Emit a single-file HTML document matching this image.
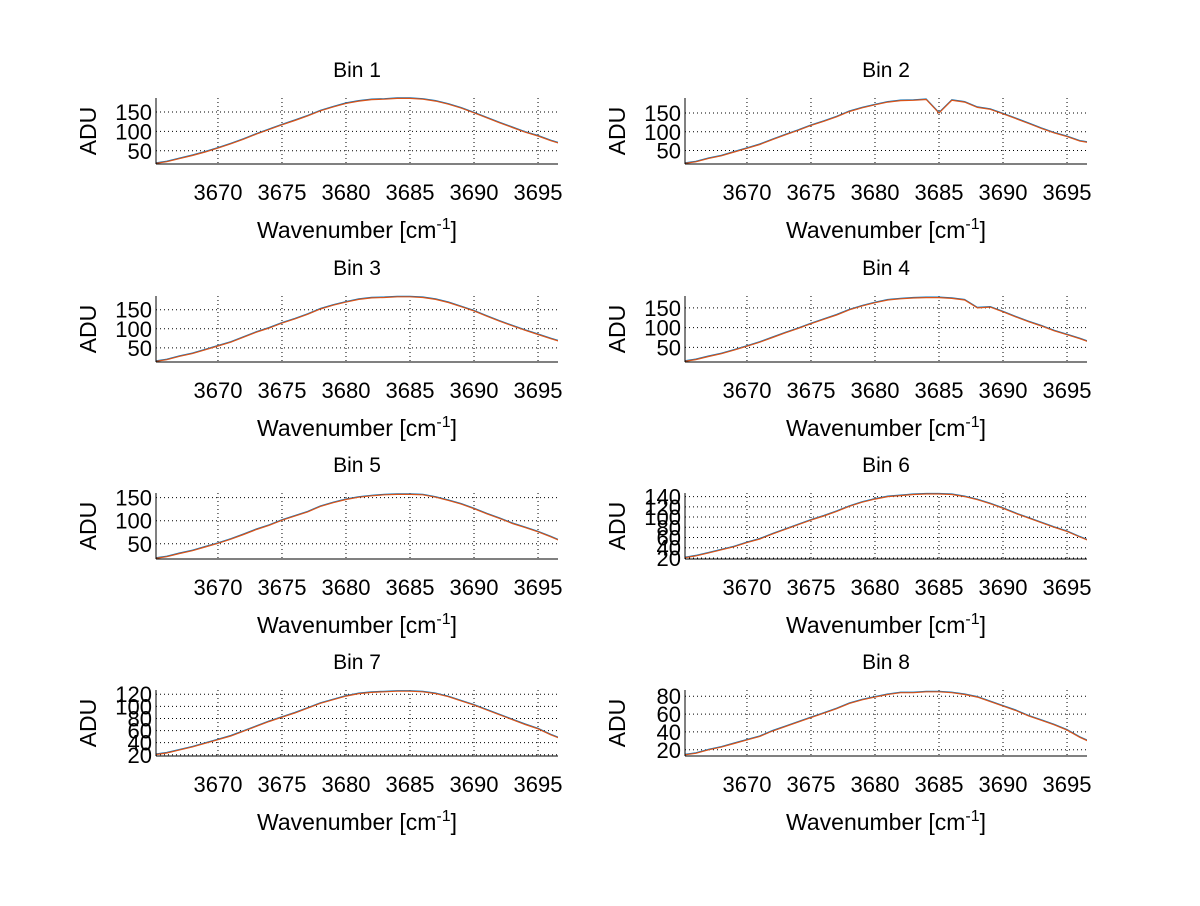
<!DOCTYPE html>
<html><head><meta charset="utf-8"><style>
body{margin:0;background:#fff}
svg text{font-family:"Liberation Sans",Arial,sans-serif;fill:#000}
</style></head><body>
<svg id="fig" width="1200" height="901" viewBox="0 0 1200 901" xmlns="http://www.w3.org/2000/svg"></svg>
<script>
const xs=[3665,3666,3667,3668,3669,3670,3671,3672,3673,3674,3675,3676,3677,3678,3679,3680,3681,3682,3683,3684,3685,3686,3687,3688,3689,3690,3691,3692,3693,3694,3695,3696,3696.6];
const bin1=[17,22,30,38,47,57,68,80,93,105,117,128,140,153,163,172,178,182,183,185,185,183,178,170,160,148,135,122,110,98,88,76,70];
const bin2=[15,20,29,36,46,56,66,79,92,104,117,128,140,154,164,172,179,183,184,186,150,184,179,165,160,148,135,122,109,97,87,75,72];
const bin3=[14,19,28,35,45,55,65,78,91,102,115,126,138,152,162,170,177,181,182,184,184,182,177,169,158,147,133,120,108,96,85,74,68];
const bin4=[14,19,27,34,43,53,63,75,87,98,110,121,132,145,155,163,170,173,175,176,176,174,170,150,152,140,127,115,104,92,82,72,65];
const bin5=[18,22,29,35,43,51,60,70,81,90,101,110,119,131,139,146,151,154,156,157,157,156,151,144,136,126,115,105,94,85,76,65,58];
const bin6=[20,24,30,36,42,50,57,67,76,85,94,102,111,121,129,135,140,142,144,145,145,144,140,134,126,117,107,98,89,80,72,61,55];
const bin7=[20,23,28,33,39,45,51,59,67,75,82,89,97,105,111,117,121,123,124,125,125,124,121,116,109,102,94,86,78,70,63,53,48];
const bin8=[14,16,20,23,27,31,35,41,46,51,56,61,66,72,76,79,82,84,84,85,85,84,82,79,74,69,64,58,53,48,42,34,30];
const series=[bin1,bin2,bin3,bin4,bin5,bin6,bin7,bin8];
const ylims=[[16,186],[14,190],[13,186],[13,180],[17,160],[18,147],[18,127],[13,87]];
const yticks=[[50,100,150],[50,100,150],[50,100,150],[50,100,150],[50,100,150],[20,40,60,80,100,120,140],[20,40,60,80,100,120],[20,40,60,80]];
const xticks=[3670,3675,3680,3685,3690,3695];
const XMIN=3665.16,XMAX=3696.56;
const NS="http://www.w3.org/2000/svg";
const svg=document.getElementById('fig');
function mk(t,a,p){const e=document.createElementNS(NS,t);for(const k in a)e.setAttribute(k,a[k]);(p||svg).appendChild(e);return e;}
const lefts=[156,685],tops=[98,296,493,690],W=402,H=66;
series.forEach((vals,i)=>{
  const L=lefts[i%2],T=tops[Math.floor(i/2)];
  const g=mk('g',{});
  
  
  const [y0,y1]=ylims[i];
  const sx=v=>L+(v-XMIN)/(XMAX-XMIN)*W;
  const sy=v=>T+H-(v-y0)/(y1-y0)*H;
  const cid='c'+i;
  const cp=mk('clipPath',{id:cid},g);mk('rect',{x:L,y:T-2,width:W,height:H+2},cp);
  xticks.forEach(t=>{
    const gl=mk('line',{x1:sx(t),x2:sx(t),y1:T,y2:T+H,stroke:'#000','stroke-width':1,'stroke-dasharray':'1,3'},g);
    
    
    const tl=mk('text',{x:sx(t),y:T+H+36,'font-size':22,'text-anchor':'middle'},g);tl.textContent=t;
    
    
  });
  yticks[i].forEach(t=>{
    const gl=mk('line',{x1:L,x2:L+W,y1:sy(t),y2:sy(t),stroke:'#000','stroke-width':1,'stroke-dasharray':'1,3'},g);
    
    
    const tl=mk('text',{x:L-4,y:sy(t)+8,'font-size':22,'text-anchor':'end'},g);tl.textContent=t;
    
    
  });
  const pB=xs.map((x,j)=>(j?'L':'M')+sx(x).toFixed(1)+','+(sy(vals[j])-0.6).toFixed(1)).join('');
  const pO=xs.map((x,j)=>(j?'L':'M')+sx(x).toFixed(1)+','+sy(vals[j]).toFixed(1)).join('');
  const lb=mk('path',{d:pB,fill:'none',stroke:'#0072bd','stroke-width':1,'clip-path':'url(#'+cid+')'},g);
  
  
  const lo=mk('path',{d:pO,fill:'none',stroke:'#d95319','stroke-width':1.2,'clip-path':'url(#'+cid+')'},g);
  
  
  mk('line',{x1:L,x2:L,y1:T,y2:T+H,stroke:'#000'},g);
  mk('line',{x1:L,x2:L+W,y1:T+H,y2:T+H,stroke:'#000'},g);
  const tt=mk('text',{x:L+W/2,y:T-21,'font-size':21,'text-anchor':'middle'},g);tt.textContent='Bin '+(i+1);
  
  
  const xl=mk('text',{x:L+W/2,y:T+H+74,'font-size':23,'text-anchor':'middle'},g);
  xl.innerHTML='Wavenumber [cm<tspan dy="-9" font-size="16">-1</tspan><tspan dy="9">]</tspan>';
  
  
  const yl=mk('text',{x:0,y:0,'font-size':23,'text-anchor':'middle',transform:'translate('+(L-60)+','+(T+H/2)+') rotate(-90)'},g);
  yl.textContent='ADU';
  
  
});
</script>
</body></html>
